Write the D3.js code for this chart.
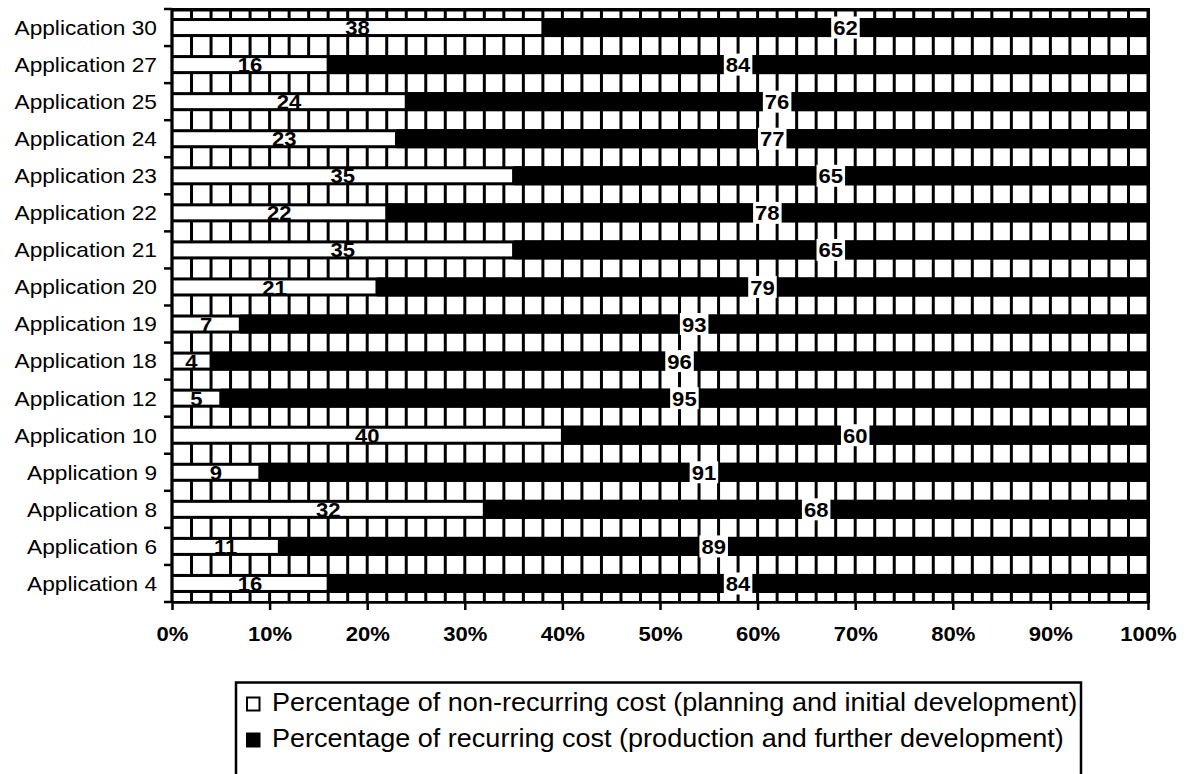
<!DOCTYPE html>
<html>
<head>
<meta charset="utf-8">
<script src="https://cdn.jsdelivr.net/npm/d3@7"></script>
<style>
  html, body { margin: 0; padding: 0; background: #fff; }
  svg { display: block; font-family: "Liberation Sans", Arial, sans-serif; }
</style>
</head>
<body>
<svg id="chart" width="1188" height="774"></svg>
<script>
// Applications, listed top to bottom
const applications = [
  "Application 30", "Application 27", "Application 25", "Application 24",
  "Application 23", "Application 22", "Application 21", "Application 20",
  "Application 19", "Application 18", "Application 12", "Application 10",
  "Application 9", "Application 8", "Application 6", "Application 4"
];
// Share of non-recurring cost (planning and initial development), %
const nonRecurring = [38, 16, 24, 23, 35, 22, 35, 21, 7, 4, 5, 40, 9, 32, 11, 16];
// Share of recurring cost (production and further development), %
const recurring = [62, 84, 76, 77, 65, 78, 65, 79, 93, 96, 95, 60, 91, 68, 89, 84];
// Axis ticks
const xTicks = [0, 10, 20, 30, 40, 50, 60, 70, 80, 90, 100];
const legendLabels = [
  "Percentage of non-recurring cost (planning and initial development)",
  "Percentage of recurring cost (production and further development)"
];

const svg = d3.select("#chart");
const plotLeft = 172, plotRight = 1148, plotTop = 9, plotBottom = 602;

const x = d3.scaleLinear().domain([0, 100]).range([plotLeft, plotRight]);
const y = d3.scaleBand().domain(applications).range([plotTop, plotBottom]).padding(0);
const bw = y.bandwidth();

// Widen text glyphs horizontally by a factor
function stretch(sel, f) {
  sel.each(function () {
    const w = this.getComputedTextLength();
    d3.select(this).attr("textLength", w * f).attr("lengthAdjust", "spacingAndGlyphs");
  });
}

// Plot area: black grid with white cells in the gaps between bars
svg.append("rect")
  .attr("x", plotLeft - 1.5).attr("y", plotTop - 1)
  .attr("width", plotRight - plotLeft + 3.5).attr("height", plotBottom - plotTop + 2)
  .attr("fill", "#000");

const boundaries = applications.map(a => y(a)).concat([y(applications[applications.length - 1]) + bw]);
const cols = d3.range(0, 100, 2);
const cellRows = svg.append("g");
boundaries.forEach(b => {
  const y0 = Math.max(b - 9, plotTop + 2.5);
  const y1 = Math.min(b + 9, plotBottom - 1);
  if (y1 <= y0) return;
  cellRows.append("g").selectAll("rect").data(cols).join("rect")
    .attr("x", d => x(d) + 1.5)
    .attr("width", d => x(d + 2) - x(d) - 3)
    .attr("y", y0).attr("height", y1 - y0)
    .attr("fill", "#fff");
});

// Recurring cost bars (black)
svg.append("g").selectAll("rect").data(applications).join("rect")
  .attr("x", (d, i) => x(nonRecurring[i]))
  .attr("width", (d, i) => x(nonRecurring[i] + recurring[i]) - x(nonRecurring[i]))
  .attr("y", d => y(d) + bw / 2 - 9.5)
  .attr("height", 19)
  .attr("fill", "#000");

// Non-recurring cost bars (white with black outline)
svg.append("g").selectAll("rect").data(applications).join("rect")
  .attr("x", x(0) + 0.5)
  .attr("width", (d, i) => x(nonRecurring[i]) - x(0) - 1)
  .attr("y", d => y(d) + bw / 2 - 7.5)
  .attr("height", 15)
  .attr("fill", "#fff")
  .attr("stroke", "#000")
  .attr("stroke-width", 2);

// Y axis: boundary ticks and category labels
const yAxis = svg.append("g");
yAxis.append("line")
  .attr("x1", plotLeft).attr("x2", plotLeft)
  .attr("y1", plotTop - 1).attr("y2", plotBottom + 1)
  .attr("stroke", "#000").attr("stroke-width", 2.5);
yAxis.selectAll("line.tick").data(boundaries).join("line")
  .attr("class", "tick")
  .attr("x1", plotLeft - 8).attr("x2", plotLeft)
  .attr("y1", d => d).attr("y2", d => d)
  .attr("stroke", "#000").attr("stroke-width", 2.5);
yAxis.selectAll("text").data(applications).join("text")
  .attr("x", 157)
  .attr("y", d => y(d) + bw / 2)
  .attr("dy", "0.35em")
  .attr("text-anchor", "end")
  .attr("font-size", 21)
  .attr("fill", "#000")
  .text(d => d)
  .call(stretch, 1.08);

// X axis
const xAxis = svg.append("g")
  .attr("transform", `translate(0,${plotBottom})`)
  .call(d3.axisBottom(x).tickValues(xTicks).tickFormat(d => d + "%").tickSize(8).tickSizeOuter(0));
xAxis.select(".domain").attr("stroke", "#000").attr("stroke-width", 2.5);
xAxis.selectAll(".tick line").attr("stroke", "#000").attr("stroke-width", 2.5);
xAxis.selectAll(".tick text")
  .attr("y", 39).attr("dy", 0)
  .attr("font-size", 21)
  .attr("font-weight", "bold")
  .attr("font-family", "'Liberation Sans', Arial, sans-serif")
  .attr("fill", "#000")
  .call(stretch, 1.05);

// Value labels
const labels = svg.append("g");
applications.forEach((a, i) => {
  const cy = y(a) + bw / 2;
  // non-recurring share, centred on the white segment
  labels.append("text")
    .attr("x", (x(0) + x(nonRecurring[i])) / 2)
    .attr("y", cy).attr("dy", "0.36em")
    .attr("text-anchor", "middle")
    .attr("font-size", 21).attr("font-weight", "bold")
    .attr("fill", "#000")
    .text(nonRecurring[i])
    .call(stretch, 1.05);
  // recurring share, on a white box centred on the black segment
  const cx = (x(nonRecurring[i]) + x(nonRecurring[i] + recurring[i])) / 2;
  const box = labels.append("rect").attr("fill", "#fff");
  const t = labels.append("text")
    .attr("x", cx)
    .attr("y", cy).attr("dy", "0.36em")
    .attr("text-anchor", "middle")
    .attr("font-size", 21).attr("font-weight", "bold")
    .attr("fill", "#000")
    .text(recurring[i])
    .call(stretch, 1.05);
  const w = +t.attr("textLength");
  box.attr("x", cx - w / 2 - 2).attr("width", w + 4)
    .attr("y", cy - 11).attr("height", 22);
});

// Legend
const legend = svg.append("g");
legend.append("rect")
  .attr("x", 236).attr("y", 682.5)
  .attr("width", 845).attr("height", 120)
  .attr("fill", "#fff").attr("stroke", "#000").attr("stroke-width", 2.5);
const legendRows = [
  { label: legendLabels[0], fill: "#fff", baseline: 711 },
  { label: legendLabels[1], fill: "#000", baseline: 747 }
];
legendRows.forEach(r => {
  legend.append("rect")
    .attr("x", 247).attr("y", r.baseline - 13.5)
    .attr("width", 12.5).attr("height", 13)
    .attr("fill", r.fill).attr("stroke", "#000").attr("stroke-width", 2);
  legend.append("text")
    .attr("x", 272).attr("y", r.baseline)
    .attr("font-size", 25.5)
    .attr("fill", "#000")
    .text(r.label)
    .call(stretch, 1.06);
});
</script>
</body>
</html>
